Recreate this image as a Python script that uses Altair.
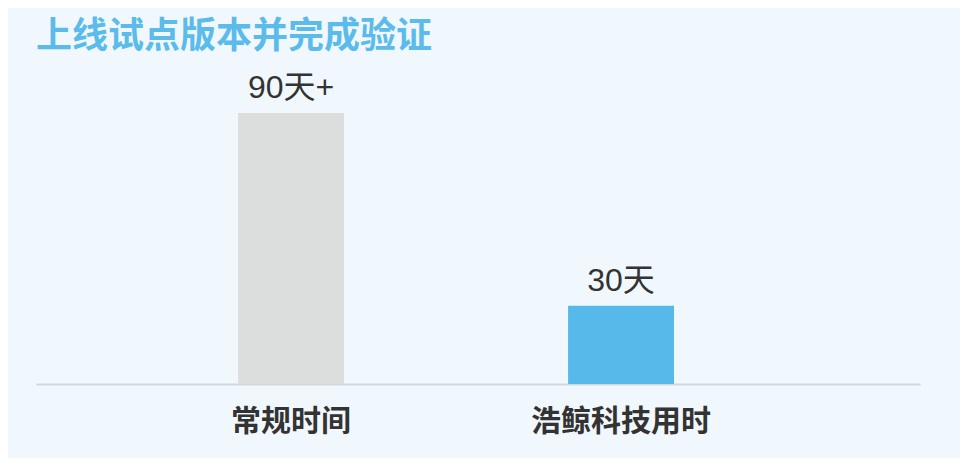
import altair as alt
import pandas as pd

categories = ["常规时间", "浩鲸科技用时"]
bar_values = [104, 30]
value_labels = ["90天+", "30天"]
bar_colors = ["#dcdddd", "#57b9e9"]

df = pd.DataFrame({"cat": categories, "value": bar_values, "label": value_labels})

FONT = "Noto Sans CJK SC"
VALUE_FONT = "Liberation Sans, Noto Sans CJK SC"

x = alt.X(
    "cat:N",
    sort=categories,
    scale=alt.Scale(paddingInner=0.679, paddingOuter=0.679, align=0.451),
    axis=alt.Axis(
        title=None,
        labelAngle=0,
        ticks=False,
        domain=True,
        domainColor="#d3d8dd",
        domainWidth=2,
        labelFont=FONT,
        labelFontSize=30,
        labelFontWeight="bold",
        labelColor="#333333",
        labelPadding=22,
        labelLimit=400,
        grid=False,
    ),
)
y = alt.Y("value:Q", scale=alt.Scale(domain=[0, 104], nice=False), axis=None)

bars = alt.Chart(df).mark_bar().encode(
    x=x,
    y=y,
    color=alt.Color("cat:N", scale=alt.Scale(domain=categories, range=bar_colors), legend=None),
)

text = alt.Chart(df).mark_text(
    dy=-15, baseline="alphabetic", font=VALUE_FONT, fontSize=32, color="#333333"
).encode(x=x, y=y, text="label:N")

chart = (
    alt.layer(bars, text)
    .properties(
        width=884,
        height=271,
        background="#f1f8fd",
        padding={"left": 28, "top": 105, "right": 40, "bottom": 74},
        autosize=alt.AutoSizeParams(type="none"),
        title=alt.TitleParams(
            text="上线试点版本并完成验证",
            anchor="start",
            frame="group",
            font=FONT,
            fontSize=36,
            fontWeight="bold",
            color="#5bbbeb",
            offset=16,
        ),
    )
    .configure_view(stroke=None)
)

chart.save("out.html", embed_options={"renderer": "svg", "actions": False})
